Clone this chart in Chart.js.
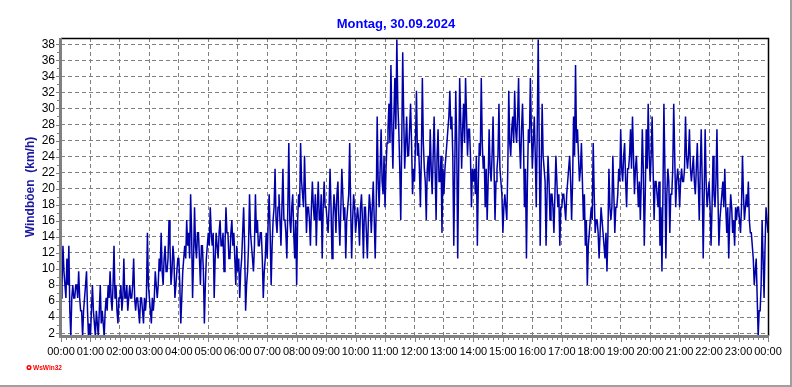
<!DOCTYPE html>
<html>
<head>
<meta charset="utf-8">
<script src="https://cdn.jsdelivr.net/npm/chart.js@4.4.1/dist/chart.umd.min.js"></script>
<style>
  html, body { margin: 0; padding: 0; background: #fff; overflow: hidden; }
  #wrap { position: relative; width: 792px; height: 387px; }
</style>
</head>
<body>
<div id="wrap"><canvas id="windChart" width="792" height="387"></canvas></div>
<script>
// chart texts
const chartTitle = "Montag, 30.09.2024";
const yTitle = "Windböen  (km/h)";

// one reading every 2 minutes, 00:00 .. 24:00
const sampleMinutes = 2;
const hourTicks = [0, 60, 120, 180, 240, 300, 360, 420, 480, 540, 600, 660, 720,
  780, 840, 900, 960, 1020, 1080, 1140, 1200, 1260, 1320, 1380, 1440];
const yTicks = [2, 4, 6, 8, 10, 12, 14, 16, 18, 20, 22, 24, 26, 28, 30, 32, 34, 36, 38];

// gusts in km/h (one row = one hour)
const gustsNight = [
  6.4, 8.0, 12.9, 9.7, 8.0, 6.4, 11.3, 8.0, 12.9, 4.8, 1.6, 6.4, 8.0, 6.4, 6.4, 8.0, 8.0, 6.4, 9.7, 6.4, 4.8, 4.8, 1.6, 4.8, 6.4, 8.0, 9.7, 4.8, 1.6, 3.2,
  1.6, 4.8, 8.0, 4.8, 3.2, 1.6, 4.8, 3.2, 1.6, 4.8, 8.0, 3.2, 4.8, 3.2, 1.6, 4.8, 6.4, 4.8, 8.0, 6.4, 9.7, 6.4, 4.8, 8.0, 12.9, 6.4, 8.0, 4.8, 3.2, 6.4,
  6.4, 8.0, 4.8, 6.4, 11.3, 6.4, 6.4, 8.0, 4.8, 6.4, 8.0, 6.4, 6.4, 8.0, 11.3, 6.4, 4.8, 6.4, 6.4, 4.8, 3.2, 6.4, 6.4, 4.8, 3.2, 6.4, 4.8, 6.4, 14.5, 8.0,
  6.4, 4.8, 3.2, 6.4, 4.8, 6.4, 9.7, 8.0, 6.4, 8.0, 11.3, 9.7, 14.5, 9.7, 8.0, 11.3, 12.9, 9.7, 9.7, 11.3, 16.1, 12.9, 8.0, 9.7, 12.9, 11.3, 6.4, 8.0, 9.7, 11.3,
  11.3, 8.0, 3.2, 6.4, 9.7, 11.3, 12.9, 11.3, 16.1, 12.9, 14.5, 11.3, 19.3, 14.5, 6.4, 11.3, 17.7, 12.9, 11.3, 14.5, 14.5, 11.3, 8.0, 12.9, 12.9, 9.7, 3.2, 8.0, 11.3, 12.9,
  14.5, 12.9, 17.7, 14.5, 12.9, 14.5, 6.4, 11.3, 14.5, 12.9, 11.3, 14.5, 16.1, 12.9, 12.9, 14.5, 9.7, 12.9, 17.7, 14.5, 14.5, 11.3, 11.3, 14.5, 16.1, 12.9, 14.5, 11.3, 8.0, 12.9
];
const gustsMorning = [
  9.7, 11.3, 6.4, 9.7, 11.3, 14.5, 17.7, 12.9, 4.8, 8.0, 9.7, 12.9, 19.3, 14.5, 12.9, 11.3, 9.7, 12.9, 19.3, 14.5, 16.1, 12.9, 12.9, 14.5, 14.5, 11.3, 6.4, 9.7, 11.3, 14.5,
  11.3, 16.1, 19.3, 14.5, 8.0, 12.9, 16.1, 17.7, 22.5, 16.1, 14.5, 17.7, 19.3, 16.1, 12.9, 17.7, 22.5, 16.1, 16.1, 14.5, 11.3, 17.7, 25.7, 16.1, 14.5, 17.7, 19.3, 14.5, 11.3, 16.1,
  8.0, 16.1, 19.3, 17.7, 25.7, 20.9, 19.3, 17.7, 24.1, 19.3, 14.5, 17.7, 17.7, 16.1, 12.9, 17.7, 20.9, 17.7, 16.1, 19.3, 12.9, 17.7, 20.9, 16.1, 16.1, 19.3, 11.3, 17.7, 20.9, 17.7,
  17.7, 16.1, 14.5, 17.7, 22.5, 17.7, 11.3, 16.1, 19.3, 17.7, 14.5, 19.3, 20.9, 16.1, 12.9, 17.7, 22.5, 19.3, 16.1, 17.7, 11.3, 16.1, 17.7, 19.3, 25.7, 17.7, 11.3, 16.1, 19.3, 17.7,
  14.5, 16.1, 17.7, 16.1, 12.9, 17.7, 19.3, 16.1, 11.3, 17.7, 17.7, 14.5, 11.3, 16.1, 19.3, 17.7, 14.5, 17.7, 20.9, 16.1, 11.3, 17.7, 29.0, 20.9, 17.7, 22.5, 27.4, 20.9, 19.3, 24.1,
  17.7, 22.5, 25.7, 27.4, 30.6, 25.7, 35.4, 27.4, 22.5, 29.0, 33.8, 27.4, 38.6, 30.6, 27.4, 22.5, 16.1, 25.7, 37.0, 29.0, 22.5, 25.7, 29.0, 24.1, 24.1, 27.4, 30.6, 25.7, 19.3, 22.5
];
const gustsAfternoon = [
  20.9, 25.7, 32.2, 24.1, 25.7, 22.5, 17.7, 24.1, 33.8, 25.7, 22.5, 20.9, 16.1, 22.5, 24.1, 20.9, 27.4, 22.5, 19.3, 24.1, 29.0, 22.5, 16.1, 24.1, 27.4, 20.9, 20.9, 24.1, 14.5, 22.5,
  19.3, 22.5, 24.1, 25.7, 27.4, 29.0, 32.2, 27.4, 29.0, 24.1, 12.9, 22.5, 32.2, 25.7, 11.3, 22.5, 33.8, 29.0, 22.5, 27.4, 30.6, 25.7, 33.8, 29.0, 24.1, 27.4, 27.4, 24.1, 17.7, 22.5,
  20.9, 22.5, 19.3, 24.1, 12.9, 20.9, 25.7, 24.1, 33.8, 25.7, 22.5, 24.1, 17.7, 22.5, 16.1, 20.9, 27.4, 22.5, 20.9, 24.1, 29.0, 22.5, 16.1, 20.9, 22.5, 24.1, 30.6, 22.5, 20.9, 19.3,
  14.5, 17.7, 19.3, 17.7, 16.1, 22.5, 32.2, 25.7, 24.1, 27.4, 29.0, 25.7, 32.2, 27.4, 25.7, 29.0, 33.8, 25.7, 22.5, 27.4, 30.6, 25.7, 17.7, 22.5, 11.3, 20.9, 27.4, 25.7, 33.8, 27.4,
  22.5, 25.7, 29.0, 24.1, 17.7, 27.4, 38.6, 25.7, 12.9, 22.5, 30.6, 24.1, 22.5, 20.9, 12.9, 19.3, 24.1, 20.9, 16.1, 19.3, 19.3, 17.7, 14.5, 19.3, 24.1, 20.9, 17.7, 19.3, 12.9, 17.7,
  17.7, 19.3, 19.3, 17.7, 16.1, 19.3, 20.9, 22.5, 24.1, 20.9, 16.1, 20.9, 29.0, 24.1, 35.4, 25.7, 27.4, 24.1, 20.9, 22.5, 25.7, 20.9, 16.1, 19.3, 12.9, 16.1, 8.0, 12.9, 14.5, 16.1
];
const gustsEvening = [
  17.7, 16.1, 25.7, 19.3, 14.5, 16.1, 16.1, 14.5, 11.3, 14.5, 17.7, 16.1, 14.5, 12.9, 11.3, 14.5, 9.7, 14.5, 22.5, 17.7, 16.1, 17.7, 24.1, 19.3, 14.5, 17.7, 17.7, 19.3, 22.5, 20.9,
  27.4, 22.5, 20.9, 24.1, 25.7, 20.9, 17.7, 22.5, 22.5, 24.1, 27.4, 22.5, 29.0, 24.1, 19.3, 22.5, 24.1, 20.9, 17.7, 20.9, 16.1, 20.9, 27.4, 22.5, 12.9, 19.3, 27.4, 22.5, 30.6, 24.1,
  20.9, 24.1, 29.0, 22.5, 16.1, 20.9, 20.9, 19.3, 17.7, 20.9, 12.9, 17.7, 9.7, 19.3, 30.6, 22.5, 11.3, 19.3, 22.5, 20.9, 14.5, 19.3, 19.3, 22.5, 30.6, 24.1, 17.7, 20.9, 22.5, 20.9,
  17.7, 20.9, 22.5, 20.9, 20.9, 22.5, 29.0, 24.1, 22.5, 24.1, 27.4, 22.5, 20.9, 22.5, 24.1, 20.9, 19.3, 22.5, 25.7, 20.9, 16.1, 22.5, 27.4, 20.9, 11.3, 19.3, 27.4, 20.9, 17.7, 19.3,
  20.9, 17.7, 12.9, 17.7, 24.1, 19.3, 17.7, 20.9, 27.4, 19.3, 12.9, 16.1, 17.7, 19.3, 20.9, 17.7, 22.5, 17.7, 14.5, 17.7, 11.3, 16.1, 19.3, 17.7, 14.5, 16.1, 12.9, 17.7, 16.1, 17.7,
  17.7, 16.1, 14.5, 17.7, 24.1, 19.3, 16.1, 17.7, 19.3, 17.7, 20.9, 16.1, 14.5, 14.5, 12.9, 11.3, 8.0, 9.7, 11.3, 6.4, 1.6, 4.8, 4.8, 8.0, 16.1, 11.3, 6.4, 12.9, 17.7, 16.1,
  14.5
];

const gusts = [...gustsNight, ...gustsMorning, ...gustsAfternoon, ...gustsEvening];
const points = gusts.map((v, i) => ({ x: i * sampleMinutes, y: v }));

const gridColor = "#808080";
const tickFont = { family: "'Liberation Sans', Arial, sans-serif", size: 11 };
const yTickFont = { family: "'Liberation Sans', Arial, sans-serif", size: 12 };

function hhmm(min) {
  const h = Math.floor(min / 60) % 24;
  return String(h).padStart(2, "0") + ":00";
}

// axes, frame and texts in the WsWin32 look
const framePlugin = {
  id: "wswinFrame",
  afterDatasetsDraw(chart) {
    const { ctx, chartArea: a, scales } = chart;
    ctx.save();
    // top + right border
    ctx.strokeStyle = "#000";
    ctx.lineWidth = 1.5;
    ctx.beginPath();
    ctx.moveTo(a.left, a.top + 0.5);
    ctx.lineTo(a.right + 0.5, a.top + 0.5);
    ctx.lineTo(a.right + 0.5, a.bottom);
    ctx.stroke();
    // gray axes
    ctx.fillStyle = gridColor;
    ctx.fillRect(a.left - 2, a.top, 3, a.bottom - a.top + 2);
    ctx.fillRect(a.left - 2, a.bottom - 1, a.right - a.left + 3, 3);
    // x ticks: every 10 min, longer at hours
    ctx.strokeStyle = gridColor;
    ctx.lineWidth = 1;
    for (let m = 0; m <= 1440; m += 10) {
      const x = Math.round(scales.x.getPixelForValue(m)) + 0.5;
      ctx.beginPath();
      ctx.moveTo(x, a.bottom + 2);
      ctx.lineTo(x, a.bottom + (m % 60 === 0 ? 6 : 4));
      ctx.stroke();
    }
    // y ticks: every 1 km/h
    for (let v = 2; v <= 38; v += 1) {
      const y = Math.round(scales.y.getPixelForValue(v)) + 0.5;
      ctx.beginPath();
      ctx.moveTo(a.left - 2, y);
      ctx.lineTo(a.left - (v % 2 === 0 ? 5 : 4), y);
      ctx.stroke();
    }
    ctx.restore();
  },
  afterDraw(chart) {
    const { ctx, chartArea: a, width, height } = chart;
    ctx.save();
    // title
    ctx.fillStyle = "#0000FF";
    ctx.font = "bold 13px 'Liberation Sans Narrow', 'Liberation Sans', Arial, sans-serif";
    ctx.textAlign = "center";
    ctx.textBaseline = "middle";
    ctx.fillText(chartTitle, 396, 24);
    // y title
    ctx.save();
    ctx.translate(31, (a.top + a.bottom) / 2);
    ctx.rotate(-Math.PI / 2);
    ctx.fillStyle = "#1a1aa0";
    ctx.font = "bold 12px 'Liberation Sans', Arial, sans-serif";
    ctx.fillText(yTitle, 0, 0);
    ctx.restore();
    // WsWin32 logo
    ctx.fillStyle = "#FF0000";
    ctx.strokeStyle = "#FF0000";
    ctx.lineWidth = 1.5;
    ctx.beginPath();
    ctx.arc(29, 367.5, 1.8, 0, Math.PI * 2);
    ctx.stroke();
    ctx.font = "bold 7px 'Liberation Sans Narrow', 'Liberation Sans', sans-serif";
    ctx.textAlign = "left";
    const logo = "WsWin32";
    const w = ctx.measureText(logo).width;
    ctx.save();
    ctx.translate(33, 368);
    ctx.scale(29 / w, 1);
    ctx.fillText(logo, 0, 0);
    ctx.restore();
    // outer frame
    ctx.strokeStyle = "#a0a0a0";
    ctx.lineWidth = 2;
    ctx.beginPath();
    ctx.moveTo(0, height - 1);
    ctx.lineTo(width - 1, height - 1);
    ctx.lineTo(width - 1, 0);
    ctx.stroke();
    ctx.restore();
  }
};

const ctx = document.getElementById("windChart").getContext("2d");
new Chart(ctx, {
  type: "line",
  data: {
    datasets: [{
      label: yTitle,
      data: points,
      borderColor: "#0000A8",
      borderWidth: 1.5,
      pointRadius: 0,
      tension: 0,
      fill: false
    }]
  },
  options: {
    responsive: false,
    animation: false,
    devicePixelRatio: 1,
    layout: { padding: { top: 38, right: 24, bottom: 0, left: 0 } },
    plugins: {
      legend: { display: false },
      tooltip: { enabled: false },
      title: { display: false }
    },
    scales: {
      x: {
        type: "linear",
        min: 0,
        max: 1440,
        afterBuildTicks: (axis) => { axis.ticks = hourTicks.map((v) => ({ value: v })); },
        afterFit: (scale) => { scale.height = 51; },
        ticks: {
          autoSkip: false,
          maxRotation: 0,
          padding: 9,
          color: "#000",
          font: tickFont,
          callback: (v) => hhmm(v)
        },
        grid: {
          drawTicks: false,
          color: (c) => (c.tick && (c.tick.value === 0 || c.tick.value === 1440) ? "rgba(0,0,0,0)" : gridColor),
          lineWidth: 1
        },
        border: { display: false, dash: [4, 3] }
      },
      y: {
        min: 1.65,
        max: 38.78,
        afterBuildTicks: (axis) => { axis.ticks = yTicks.map((v) => ({ value: v })); },
        afterFit: (scale) => { scale.width = 61; },
        ticks: {
          autoSkip: false,
          padding: 6,
          color: "#000",
          font: yTickFont
        },
        grid: {
          drawTicks: false,
          color: gridColor,
          lineWidth: 1
        },
        border: { display: false, dash: [4, 3] }
      }
    }
  },
  plugins: [framePlugin]
});
</script>
</body>
</html>
